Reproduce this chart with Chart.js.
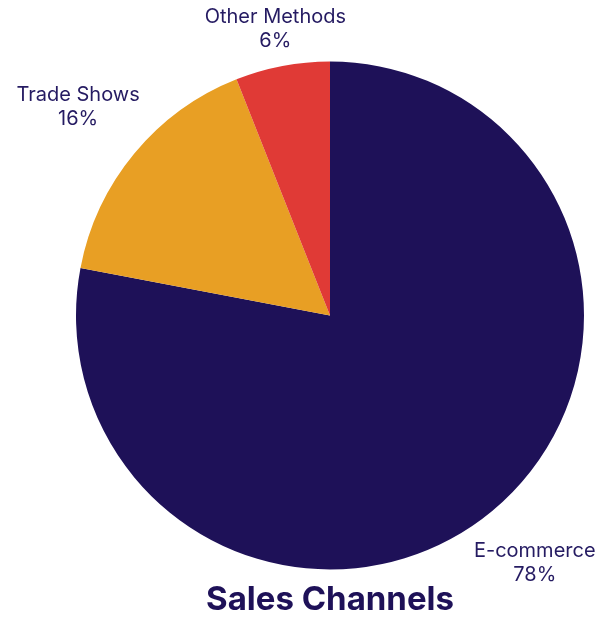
<!DOCTYPE html>
<html>
<head>
<meta charset="utf-8">
<script src="https://cdn.jsdelivr.net/npm/chart.js@4"></script>
<style>
  html, body { margin: 0; padding: 0; background: #ffffff; }
  #wrap { width: 613px; height: 617px; }
</style>
</head>
<body>
<div id="wrap"><canvas id="pieChart" width="613" height="617"></canvas></div>
<script>
  var channelLabels = ['E-commerce', 'Trade Shows', 'Other Methods'];
  var channelShares = [78, 16, 6];
  var sliceColors = ['#1e1158', '#e89f24', '#e03a36'];
  var textColor = '#251b62';

  // labels outside each slice, on the mid-angle ray
  var outsideLabels = {
    id: 'outsideLabels',
    afterDatasetsDraw: function(chart) {
      var ctx = chart.ctx;
      var meta = chart.getDatasetMeta(0);
      var data = chart.data.datasets[0].data;
      ctx.save();
      ctx.font = '20px Inter, "Noto Sans", sans-serif';
      ctx.fillStyle = textColor;
      ctx.textAlign = 'center';
      ctx.textBaseline = 'middle';
      meta.data.forEach(function(arc, i) {
        var mid = (arc.startAngle + arc.endAngle) / 2;
        var cos = Math.cos(mid), sin = Math.sin(mid);
        var line1 = chart.data.labels[i];
        var line2 = data[i] + '%';
        var hw = Math.max(ctx.measureText(line1).width, ctx.measureText(line2).width) / 2;
        var hh = 21;
        var t = Math.min(Math.abs(cos) > 0.001 ? hw / Math.abs(cos) : 1e9, Math.abs(sin) > 0.001 ? hh / Math.abs(sin) : 1e9);
        var dist = arc.outerRadius + 40 + t;
        var cy = arc.y + sin * dist;
        // keep the label inside the canvas
        if (cy - hh < 8 && sin < 0) {
          dist = (arc.y - 8 - hh) / -sin;
        }
        var cx = arc.x + cos * dist;
        cy = arc.y + sin * dist;
        ctx.fillText(line1, cx, cy - 12);
        ctx.fillText(line2, cx, cy + 12);
      });
      ctx.restore();
    }
  };

  var ctx = document.getElementById('pieChart').getContext('2d');
  var pieChart = new Chart(ctx, {
    type: 'pie',
    data: {
      labels: channelLabels,
      datasets: [{
        data: channelShares,
        backgroundColor: sliceColors,
        borderWidth: 0
      }]
    },
    options: {
      responsive: false,
      animation: false,
      layout: {
        padding: { top: 61, left: 76, right: 29, bottom: 0 }
      },
      plugins: {
        legend: { display: false },
        tooltip: { enabled: false },
        title: {
          display: true,
          position: 'bottom',
          text: 'Sales Channels',
          color: '#1e1158',
          font: { family: 'Inter, "Noto Sans", sans-serif', size: 33, weight: 'bold', lineHeight: 1 },
          padding: { top: 14, bottom: 0 }
        }
      }
    },
    plugins: [outsideLabels]
  });
</script>
</body>
</html>
